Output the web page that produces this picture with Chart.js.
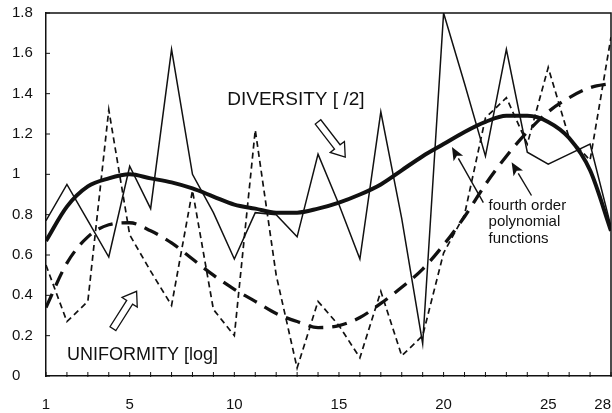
<!DOCTYPE html>
<html>
<head>
<meta charset="utf-8">
<script src="https://cdn.jsdelivr.net/npm/chart.js@4.4.1/dist/chart.umd.min.js"></script>
<style>
  html, body { margin: 0; padding: 0; background: #fff; }
  #wrap { width: 612px; height: 413px; }
</style>
</head>
<body>
<div id="wrap"><canvas id="chart" width="612" height="413"></canvas></div>
<script>
// sampling points along the x axis
const days = [1, 2, 3, 4, 5, 6, 7, 8, 9, 10, 11, 12, 13, 14, 15, 16, 17, 18, 19, 20, 21, 22, 23, 24, 25, 26, 27, 28];
const xLabels = [1, 5, 10, 15, 20, 25, 28];
const yTicks = [0, 0.2, 0.4, 0.6, 0.8, 1, 1.2, 1.4, 1.6, 1.8];

// raw series
const diversity = [0.77, 0.95, 0.77, 0.59, 1.04, 0.83, 1.62, 1.0, 0.81, 0.58, 0.81, 0.80, 0.69, 1.10,
  0.85, 0.58, 1.31, 0.78, 0.16, 1.80, 1.45, 1.09, 1.62, 1.11, 1.05, 1.10, 1.15, 0.74];
const uniformity = [0.55, 0.27, 0.37, 1.32, 0.70, 0.52, 0.35, 0.92, 0.33, 0.20, 1.22, 0.50, 0.04, 0.37,
  0.25, 0.09, 0.42, 0.10, 0.20, 0.61, 0.80, 1.28, 1.38, 1.15, 1.53, 1.18, 1.07, 1.68];

// fourth order polynomial curves
const diversityFit = [0.67, 0.84, 0.94, 0.98, 1.0, 0.98, 0.96, 0.93, 0.89, 0.85, 0.83, 0.81, 0.81, 0.83,
  0.86, 0.90, 0.95, 1.02, 1.09, 1.15, 1.21, 1.26, 1.29, 1.29, 1.26, 1.18, 1.02, 0.72];
const uniformityFit = [0.34, 0.56, 0.69, 0.75, 0.76, 0.72, 0.66, 0.58, 0.50, 0.43, 0.37, 0.31, 0.27, 0.24,
  0.25, 0.29, 0.36, 0.44, 0.53, 0.65, 0.79, 0.95, 1.09, 1.21, 1.31, 1.38, 1.43, 1.45];

const ink = '#111';
const fontFamily = '"Liberation Sans", Arial, sans-serif';

const pts = arr => arr.map((v, i) => ({ x: days[i], y: v }));

// arrows with an open (white) body
function hollowArrow(ctx, x1, y1, x2, y2) {
  const len = Math.hypot(x2 - x1, y2 - y1);
  const ux = (x2 - x1) / len, uy = (y2 - y1) / len;
  const nx = -uy, ny = ux;
  const w = 3.5, hw = 9, hl = 13;
  const bx = x2 - ux * hl, by = y2 - uy * hl;
  ctx.beginPath();
  ctx.moveTo(x1 + nx * w, y1 + ny * w);
  ctx.lineTo(bx + nx * w, by + ny * w);
  ctx.lineTo(bx + nx * hw, by + ny * hw);
  ctx.lineTo(x2, y2);
  ctx.lineTo(bx - nx * hw, by - ny * hw);
  ctx.lineTo(bx - nx * w, by - ny * w);
  ctx.lineTo(x1 - nx * w, y1 - ny * w);
  ctx.closePath();
  ctx.fillStyle = '#fff';
  ctx.fill();
  ctx.lineWidth = 1.3;
  ctx.stroke();
}

function solidArrow(ctx, x1, y1, x2, y2) {
  const len = Math.hypot(x2 - x1, y2 - y1);
  const ux = (x2 - x1) / len, uy = (y2 - y1) / len;
  const nx = -uy, ny = ux;
  const hl = 13, hw = 5.5;
  const bx = x2 - ux * hl, by = y2 - uy * hl;
  ctx.lineWidth = 1.4;
  ctx.beginPath();
  ctx.moveTo(x1, y1);
  ctx.lineTo(bx, by);
  ctx.stroke();
  ctx.beginPath();
  ctx.moveTo(x2, y2);
  ctx.lineTo(bx + nx * hw, by + ny * hw);
  ctx.lineTo(bx + ux * 3, by + uy * 3);
  ctx.lineTo(bx - nx * hw, by - ny * hw);
  ctx.closePath();
  ctx.fillStyle = ink;
  ctx.fill();
}

const decorations = {
  id: 'decorations',
  afterDraw(chart) {
    const { ctx, chartArea: a, scales: { x, y } } = chart;
    const X = v => x.getPixelForValue(v);
    const Y = v => y.getPixelForValue(v);
    ctx.save();
    ctx.strokeStyle = ink;

    // top and right frame
    ctx.lineWidth = 1.5;
    ctx.beginPath();
    ctx.moveTo(a.left, a.top);
    ctx.lineTo(a.right, a.top);
    ctx.lineTo(a.right, a.bottom);
    ctx.stroke();

    // small inward tick marks
    ctx.lineWidth = 1;
    ctx.beginPath();
    days.forEach(d => {
      ctx.moveTo(X(d), a.bottom + 1);
      ctx.lineTo(X(d), a.bottom - 4);
    });
    yTicks.forEach(t => {
      ctx.moveTo(a.left, Y(t));
      ctx.lineTo(a.left + 4, Y(t));
    });
    ctx.stroke();

    // x tick labels
    ctx.fillStyle = ink;
    ctx.font = '15px ' + fontFamily;
    ctx.textBaseline = 'middle';
    xLabels.forEach(v => {
      const s = String(v);
      const w = ctx.measureText(s).width;
      let px = X(v) - w / 2;
      if (px + w > chart.width - 1) px = chart.width - 1 - w;
      ctx.textAlign = 'left';
      ctx.fillText(s, px, a.bottom + 29);
    });

    // labels
    ctx.font = '19px ' + fontFamily;
    ctx.fillText('DIVERSITY [ /2]', X(9.66), Y(1.37));
    ctx.font = '18px ' + fontFamily;
    ctx.fillText('UNIFORMITY [log]', X(2.0), Y(0.104));
    ctx.font = '15px ' + fontFamily;
    ctx.fillText('fourth order', X(22.15), Y(0.845));
    ctx.fillText('polynomial', X(22.15), Y(0.765));
    ctx.fillText('functions', X(22.15), Y(0.68));

    // arrows
    hollowArrow(ctx, X(14.0), Y(1.26), X(15.3), Y(1.085));
    hollowArrow(ctx, X(4.2), Y(0.235), X(5.33), Y(0.42));
    solidArrow(ctx, X(21.9), Y(0.86), X(20.4), Y(1.135));
    solidArrow(ctx, X(24.2), Y(0.895), X(23.25), Y(1.06));

    ctx.restore();
  }
};

new Chart(document.getElementById('chart'), {
  type: 'line',
  data: {
    datasets: [
      {
        label: 'DIVERSITY [ /2]',
        data: pts(diversity),
        borderColor: ink,
        borderWidth: 1.5,
        pointRadius: 0,
        tension: 0
      },
      {
        label: 'UNIFORMITY [log]',
        data: pts(uniformity),
        borderColor: ink,
        borderWidth: 1.7,
        borderDash: [6, 4],
        pointRadius: 0,
        tension: 0
      },
      {
        label: 'diversity fit',
        data: pts(diversityFit),
        borderColor: ink,
        borderWidth: 4,
        pointRadius: 0,
        cubicInterpolationMode: 'monotone'
      },
      {
        label: 'uniformity fit',
        data: pts(uniformityFit),
        borderColor: ink,
        borderWidth: 3.3,
        borderDash: [15, 9],
        pointRadius: 0,
        cubicInterpolationMode: 'monotone'
      }
    ]
  },
  options: {
    responsive: false,
    animation: false,
    devicePixelRatio: 1,
    layout: { padding: { top: 13, right: 1, left: 12, bottom: 0 } },
    plugins: {
      legend: { display: false },
      tooltip: { enabled: false }
    },
    scales: {
      x: {
        type: 'linear',
        min: 1,
        max: 28,
        afterBuildTicks: axis => { axis.ticks = days.map(v => ({ value: v })); },
        afterFit: s => { s.height = 37; s.paddingLeft = 0; s.paddingRight = 0; },
        ticks: { display: false },
        grid: { display: false, drawTicks: false },
        border: { display: true, color: ink, width: 1.5 }
      },
      y: {
        min: 0,
        max: 1.8,
        afterBuildTicks: axis => { axis.ticks = yTicks.map(v => ({ value: v })); },
        afterFit: s => { s.width = 34; },
        ticks: {
          color: ink,
          crossAlign: 'far',
          font: { family: fontFamily, size: 15 },
          callback: v => String(Math.round(v * 10) / 10)
        },
        grid: { display: false, drawTicks: false },
        border: { display: true, color: ink, width: 1.5 }
      }
    }
  },
  plugins: [decorations]
});
</script>
</body>
</html>
